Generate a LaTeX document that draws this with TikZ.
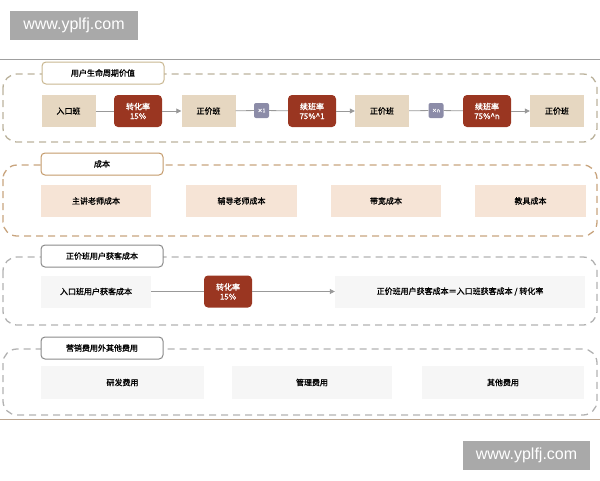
\documentclass[tikz,border=0pt]{standalone}
\usepackage{fontspec}
\setmainfont{Noto Sans CJK SC}[FakeBold=1.2]
\newfontfamily\marcafont{Liberation Sans}
\usetikzlibrary{arrows.meta}

\definecolor{beige}{HTML}{E6D7C1}
\definecolor{rojo}{HTML}{9A3621}
\definecolor{lila}{HTML}{8C8CA8}
\definecolor{melocoton}{HTML}{F6E4D6}
\definecolor{grisclaro}{HTML}{F6F6F6}
\definecolor{bordeuno}{HTML}{BBB29C}
\definecolor{bordedos}{HTML}{C8A47E}
\definecolor{bordetres}{HTML}{B2B2B2}
\definecolor{titulouno}{HTML}{C9B791}
\definecolor{titulodos}{HTML}{C49A6A}
\definecolor{titulotres}{HTML}{8A8A8A}
\definecolor{lineagris}{HTML}{999999}
\definecolor{marcagris}{HTML}{A9A9A9}

\begin{document}
\begin{tikzpicture}[x=1pt,y=-1pt,
    caja/.style={minimum width=54pt, minimum height=32pt, inner sep=0pt, font=\fontsize{8}{9.5}\selectfont},
    tasa/.style={caja, minimum width=48pt, fill=rojo, text=white, rounded corners=4pt, align=center},
    mult/.style={minimum width=15pt, minimum height=15pt, inner sep=0pt, fill=lila, text=white, rounded corners=2pt, font=\fontsize{5}{5}\selectfont},
    titulo/.style={draw, fill=white, line width=1pt, rounded corners=4pt, minimum width=122pt, minimum height=22pt, inner sep=0pt, font=\fontsize{8}{9}\selectfont},
    marco/.style={dash pattern=on 7pt off 5pt, line width=1.3pt, rounded corners=14pt},
    linea/.style={lineagris, line width=0.8pt},
    flecha/.style={linea, -{Triangle[length=5pt,width=5pt]}},
    marca/.style={fill=marcagris, text=white, minimum width=128pt, minimum height=29pt, inner sep=0pt, font=\marcafont\fontsize{16}{16}\selectfont}]
    \useasboundingbox (0,0) rectangle (600,480);

    % Marcas de agua y lineas
    \node[marca] (marcasup) at (74,25.5) {www.yplfj.com};
    \node[marca, minimum width=127pt] (marcainf) at (526.5,455) {www.yplfj.com};
    \draw[gray!75, line width=1pt] (0,59) -- (600,59);
    \draw[brown!50!gray!70, line width=1pt] (0,419) -- (600,419);

    % Ciclo de vida
    \draw[marco, bordeuno] (3,74) rectangle (597,142);
    \node[titulo, draw=titulouno] (tituno) at (103,73) {用户生命周期价值};
    \node[caja, fill=beige] (entrada) at (68.5,111) {入口班};
    \node[tasa] (conv) at (138,111) {转化率\\15\%};
    \node[caja, fill=beige] (pagouno) at (208.5,111) {正价班};
    \node[mult] (poruno) at (261.5,110.5) {×1};
    \node[tasa] (renuno) at (312,111) {续班率\\75\%\^{}1};
    \node[caja, fill=beige] (pagodos) at (382,111) {正价班};
    \node[mult] (porn) at (436,110.5) {×n};
    \node[tasa] (renn) at (487,111) {续班率\\75\%\^{}n};
    \node[caja, fill=beige] (pagon) at (557,111) {正价班};
    \draw[linea] (entrada) -- (conv);
    \draw[flecha] (conv) -- (pagouno);
    \draw[linea] (pagouno) -- (poruno);
    \draw[linea] (poruno) -- (renuno);
    \draw[flecha] (renuno) -- (pagodos);
    \draw[linea] (pagodos) -- (porn);
    \draw[linea] (porn) -- (renn);
    \draw[flecha] (renn) -- (pagon);

    % Costes
    \draw[marco, bordedos] (3,165) rectangle (597,236);
    \node[titulo, draw=titulodos] (titdos) at (102,164) {成本};
    \node[caja, fill=melocoton, minimum width=110pt] (profesor) at (96,201) {主讲老师成本};
    \node[caja, fill=melocoton, minimum width=111pt] (tutor) at (241.5,201) {辅导老师成本};
    \node[caja, fill=melocoton, minimum width=110pt] (banda) at (386,201) {带宽成本};
    \node[caja, fill=melocoton, minimum width=111pt] (material) at (530.5,201) {教具成本};

    % Captacion
    \draw[marco, bordetres] (3,257) rectangle (597,325);
    \node[titulo, draw=titulotres] (tittres) at (102,256) {正价班用户获客成本};
    \node[caja, fill=grisclaro, minimum width=110pt] (captacion) at (96,291.5) {入口班用户获客成本};
    \node[tasa] (convdos) at (228,291.5) {转化率\\15\%};
    \node[caja, fill=grisclaro, minimum width=250pt] (formula) at (460,291.5) {正价班用户获客成本＝入口班获客成本 / 转化率};
    \draw[linea] (captacion) -- (convdos);
    \draw[flecha] (convdos) -- (formula);

    % Otros gastos
    \draw[marco, bordetres] (3,349) rectangle (597,415);
    \node[titulo, draw=titulotres] (titcuatro) at (102,348) {营销费用外其他费用};
    \node[caja, fill=grisclaro, minimum width=163pt, minimum height=33pt] (investigacion) at (122.5,382.5) {研发费用};
    \node[caja, fill=grisclaro, minimum width=160pt, minimum height=33pt] (gestion) at (312,382.5) {管理费用};
    \node[caja, fill=grisclaro, minimum width=162pt, minimum height=33pt] (otros) at (503,382.5) {其他费用};
\end{tikzpicture}
\end{document}
